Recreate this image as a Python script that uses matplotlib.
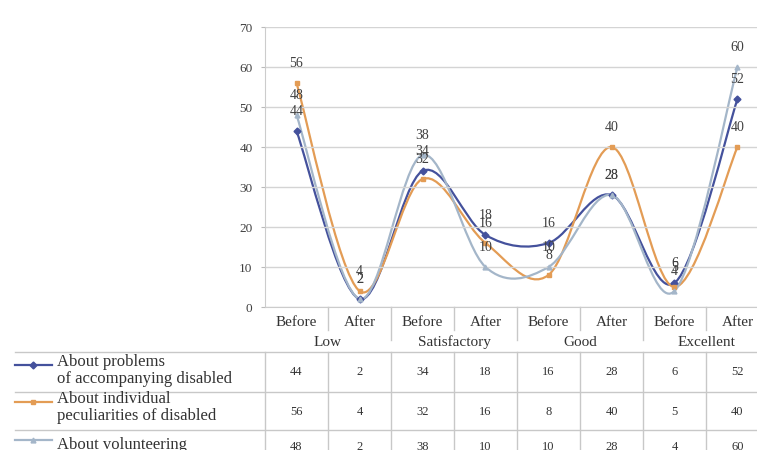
import numpy as np
import matplotlib.pyplot as plt
from matplotlib.path import Path
from matplotlib.patches import PathPatch

# data
levels = ['Low', 'Satisfactory', 'Good', 'Excellent']
stages = ['Before', 'After']
names = ['About problems\nof accompanying disabled',
         'About individual\npeculiarities of disabled',
         'About volunteering']
problems = [44, 2, 34, 18, 16, 28, 6, 52]
peculiarities = [56, 4, 32, 16, 8, 40, 5, 40]
volunteering = [48, 2, 38, 10, 10, 28, 4, 60]
series = [problems, peculiarities, volunteering]
colors = ['#44519c', '#e39c55', '#a4b6c9']
markers = ['D', 's', '^']

plt.rcParams['font.family'] = ['Liberation Serif', 'DejaVu Serif']


def smooth_path(x, y):
    # excel-like smoothed line: cubic bezier through every point
    pts = np.column_stack([x, y]).astype(float)
    n = len(pts)
    verts = [pts[0]]
    codes = [Path.MOVETO]
    for i in range(n - 1):
        p0 = pts[max(i - 1, 0)]
        p1 = pts[i]
        p2 = pts[i + 1]
        p3 = pts[min(i + 2, n - 1)]
        verts += [p1 + (p2 - p0) / 6, p2 - (p3 - p1) / 6, p2]
        codes += [Path.CURVE4] * 3
    return Path(verts, codes)


W, H = 757, 450
fig = plt.figure(figsize=(W / 100, H / 100), dpi=100)

# overlay in pixel coords for the legend column of the table
ov = fig.add_axes([0, 0, 1, 1], zorder=0)
ov.set_xlim(0, W)
ov.set_ylim(H, 0)
ov.axis('off')

ax = fig.add_axes([265 / W, (H - 307) / H, 504 / W, 280 / H], zorder=1)
ax.patch.set_alpha(0)

x = np.arange(len(problems))
for vals, c, m in zip(series, colors, markers):
    ax.add_patch(PathPatch(smooth_path(x, vals), fill=False, edgecolor=c, lw=1.6))
    ax.plot(x, vals, ls='none', marker=m, ms=3.5, color=c)
    for xi, v in zip(x, vals):
        ax.annotate(str(v), (xi, v), xytext=(0, 14), textcoords='offset points',
                    ha='center', va='center', fontsize=10, color='#404040')

ax.set_xlim(-0.5, len(x) - 0.5)
ax.set_ylim(0, 70)
ax.set_yticks(range(0, 71, 10))
ax.tick_params(axis='y', labelsize=9.5, labelcolor='#404040', length=3, color='#bbbbbb', pad=6)
ax.set_xticks([])
ax.grid(axis='y', color='#d4d4d4', lw=1)
for s in ['top', 'right']:
    ax.spines[s].set_visible(False)
ax.spines['left'].set_color('#cccccc')
ax.spines['bottom'].set_color('#cccccc')


def yf(py):
    return (307 - py) / 280


tr = ax.get_xaxis_transform()
lc = '#c8c8c8'
kw = dict(transform=tr, clip_on=False)

# header rows
for i in range(len(x)):
    ax.text(i, yf(322), stages[i % 2], ha='center', va='center', fontsize=11, color='#333333', **kw)
for g, lev in enumerate(levels):
    ax.text(2 * g + 0.5, yf(342), lev, ha='center', va='center', fontsize=11, color='#333333', **kw)
for b in np.arange(0.5, len(x) - 0.5, 1):
    top = yf(340) if b % 2 == 1.5 % 2 else yf(330)
    ax.plot([b, b], [yf(307), top], color=lc, lw=1, **kw)

# data rows
row_y = [372, 412, 447]
for vals, ry in zip(series, row_y):
    for xi, v in zip(x, vals):
        ax.text(xi, yf(ry), str(v), ha='center', va='center', fontsize=9, color='#333333', **kw)
for b in np.arange(-0.5, len(x), 1):
    ax.plot([b, b], [yf(352), yf(460)], color=lc, lw=1, **kw)

for py in [352, 392, 430]:
    ov.plot([15, W], [py, py], color=lc, lw=1)

# legend keys
key_y = [365, 402, 440]
for name, c, m, ky in zip(names, colors, markers, key_y):
    ov.plot([15, 52], [ky, ky], color=c, lw=1.6)
    ov.plot([33], [ky], marker=m, ms=3.5, color=c)
    ov.text(57, ky + 3, name, ha='left', va='center_baseline', fontsize=12, color='#333333',
            linespacing=1.05)

fig.savefig('out.png', dpi=100)
